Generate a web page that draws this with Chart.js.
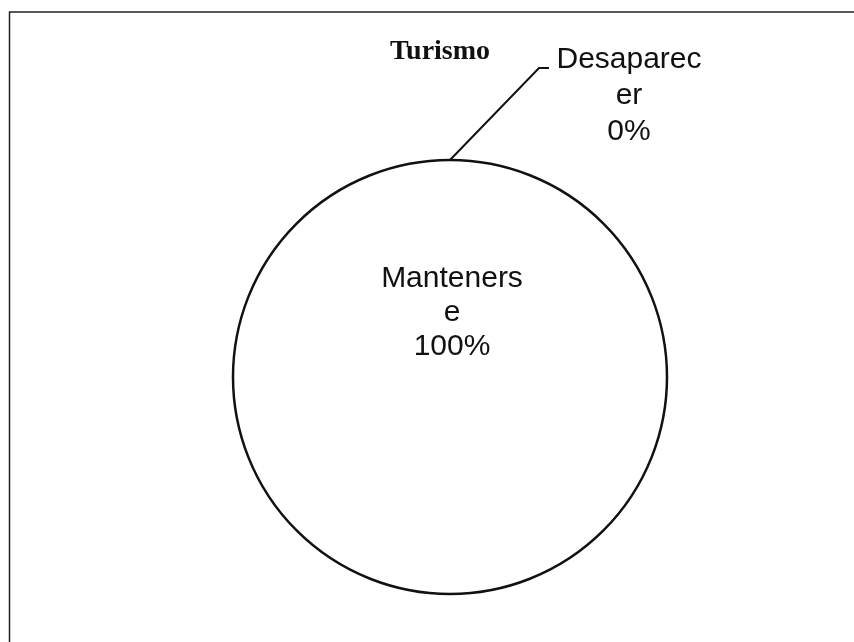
<!DOCTYPE html>
<html lang="es">
<head>
  <meta charset="UTF-8" />
  <title>Turismo</title>
  <script src="https://cdn.jsdelivr.net/npm/chart.js@4.4.1/dist/chart.umd.min.js"></script>
  <style>
    *{margin:0;padding:0;box-sizing:border-box}
    html,body{width:854px;height:642px;background:#fff;overflow:hidden}
    .wrap{position:relative;width:854px;height:642px}
  </style>
</head>
<body>
  <div class="wrap"><canvas id="pie" width="854" height="642"></canvas></div>
  <script>
    // data
    const categories = ['Mantenerse', 'Desaparecer'];
    const values = [100, 0];
    // labels as they wrap in the original
    const labelLines = [['Manteners', 'e'], ['Desaparec', 'er']];
    const chartTitle = 'Turismo';

    const total = values.reduce((a, b) => a + b, 0);

    // frame, outline, title, data labels and leader line
    const decor = {
      id: 'decor',
      beforeDraw(chart) {
        const ctx = chart.ctx;
        ctx.save();
        ctx.strokeStyle = '#222';
        ctx.lineWidth = 1.5;
        ctx.beginPath();
        ctx.moveTo(9.5, 642);
        ctx.lineTo(9.5, 12);
        ctx.lineTo(854, 12);
        ctx.stroke();
        ctx.restore();
      },
      afterDraw(chart) {
        const ctx = chart.ctx;
        const arcs = chart.getDatasetMeta(0).data;
        const a0 = arcs[0], a1 = arcs[1];
        const cx = a0.x, cy = a0.y, r = a0.outerRadius;
        ctx.save();

        // pie outline (a full-circle slice border would add a radial line)
        ctx.strokeStyle = '#111';
        ctx.lineWidth = 2.5;
        ctx.beginPath();
        ctx.arc(cx, cy, r, a0.startAngle, a0.endAngle);
        ctx.stroke();

        ctx.fillStyle = '#111';
        ctx.textAlign = 'center';
        ctx.textBaseline = 'alphabetic';

        // title
        ctx.font = 'bold 28px "Liberation Serif", "Times New Roman", serif';
        ctx.fillText(chartTitle, cx - 10, cy - r - 101);

        // big slice label
        ctx.font = '30px "Liberation Sans", Arial, sans-serif';
        const pct0 = Math.round(values[0] / total * 100) + '%';
        [...labelLines[0], pct0].forEach((t, i) => ctx.fillText(t, cx + 2, cy - 90 + i * 34));

        // zero slice label with leader
        const ang = a1.startAngle;
        const px = cx + r * Math.cos(ang), py = cy + r * Math.sin(ang);
        ctx.lineWidth = 2;
        ctx.beginPath();
        ctx.moveTo(px, py);
        ctx.lineTo(px + 89, py - 92);
        ctx.lineTo(px + 99, py - 92);
        ctx.stroke();
        const pct1 = Math.round(values[1] / total * 100) + '%';
        [...labelLines[1], pct1].forEach((t, i) => ctx.fillText(t, px + 179, py - 92 + i * 36));
        ctx.restore();
      }
    };

    new Chart(document.getElementById('pie'), {
      type: 'pie',
      data: {
        labels: categories,
        datasets: [{
          data: values,
          backgroundColor: ['#ffffff', '#ffffff'],
          borderWidth: 0
        }]
      },
      options: {
        responsive: false,
        animation: false,
        layout: { padding: { left: 233, right: 187, top: 160, bottom: 48 } },
        plugins: { legend: { display: false }, tooltip: { enabled: false }, title: { display: false } }
      },
      plugins: [decor]
    });
  </script>
</body>
</html>
